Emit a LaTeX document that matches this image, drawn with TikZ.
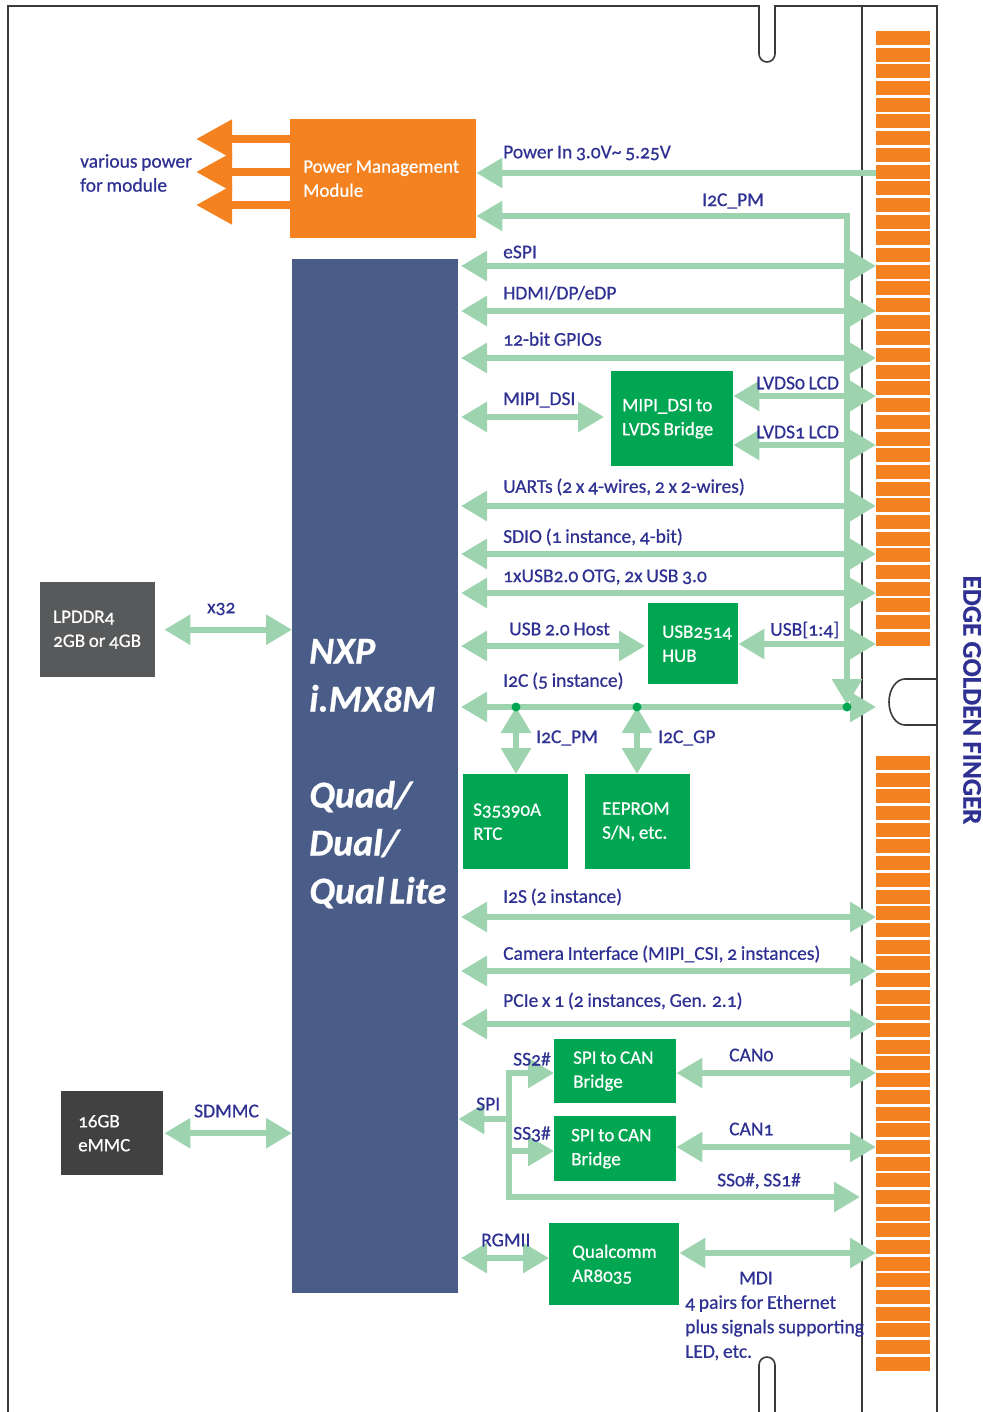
\documentclass[tikz,border=0pt]{standalone}
\usepackage{fontspec}
\setmainfont{Carlito}[Numbers=OldStyle, WordSpace=0.85, FakeBold=0.6]
\usetikzlibrary{arrows.meta,positioning}

\definecolor{busgreen}{HTML}{9DD4AF}
\definecolor{boxgreen}{HTML}{00A651}
\definecolor{pwrorange}{HTML}{F58220}
\definecolor{socblue}{HTML}{4A5D88}
\definecolor{memgray}{HTML}{58595B}
\definecolor{flashgray}{HTML}{414141}
\definecolor{txtblue}{HTML}{2E3192}
\definecolor{framegray}{HTML}{3A3A3A}

\tikzset{
  bus/.style={draw=busgreen, line width=6pt, line join=miter},
  pwr/.style={draw=pwrorange, line width=8pt, -{Triangle[length=36pt,width=37pt]}},
  lbl/.style={text=txtblue, anchor=west, inner sep=0pt, align=left, font=\fontsize{19.5}{24}\selectfont},
  blk/.style={anchor=north west, inner ysep=0pt, align=flush left, text=white, font=\fontsize{19}{24}\selectfont},
  tapdot/.style={fill=boxgreen, circle, inner sep=0pt, minimum size=9pt},
  edgeline/.style={draw=framegray, line width=1.6pt},
}

\begin{document}
\begin{tikzpicture}[x=1pt, y=-1pt, >={Triangle[length=26pt,width=29pt]}]
    \useasboundingbox (0,0) rectangle (982,1412);

    % module outline and edge connector
    \draw[edgeline] (8,1412) -- (8,6) -- (759,6) -- (759,54)
        arc[start angle=180, end angle=0, radius=8] -- (775,6) -- (937,6) -- (937,1412);
    \draw[edgeline] (862,6) -- (862,1412);
    \draw[edgeline] (937,679) -- (905,679)
        arc[start angle=270, end angle=90, x radius=16, y radius=23] -- (937,725);
    \draw[edgeline] (759,1412) -- (759,1365)
        arc[start angle=180, end angle=360, radius=8] -- (775,1412);
    \foreach \i in {0,...,36} {
        \fill[pwrorange] (876,{31+16.69*\i}) rectangle ++(54,14);
        \fill[pwrorange] (876,{756+16.69*\i}) rectangle ++(54,14);
    }
    \node[rotate=-90, text=txtblue, font=\bfseries\fontsize{27}{27}\selectfont] (edge) at (972,700) {EDGE GOLDEN FINGER};

    % blocks
    \node[blk, fill=pwrorange, minimum width=186pt, minimum height=119pt, text width=160pt, inner xsep=13pt] (pmm) at (290,119) {Power~Management\\Module};
    \node[blk, fill=socblue, minimum width=166pt, minimum height=1034pt, text width=132pt, inner xsep=17pt,
          font=\bfseries\itshape\fontsize{38}{48}\selectfont] (chip) at (292,259) {NXP\\i.MX8M\\[48pt]Quad/\\Dual/\\Qual~Lite\\[-38pt]\mbox{}};
    \node[blk, fill=boxgreen, minimum width=122pt, minimum height=95pt, text width=100pt, inner xsep=11pt] (mipi) at (611,371) {MIPI\_DSI~to\\LVDS~Bridge};
    \node[blk, fill=boxgreen, minimum width=90pt, minimum height=81pt, text width=62pt, inner xsep=14pt] (hub) at (648,603) {USB2514\\HUB};
    \node[blk, fill=boxgreen, minimum width=105pt, minimum height=95pt, text width=85pt, inner xsep=10pt] (rtc) at (463,774) {S35390A\\RTC};
    \node[blk, fill=boxgreen, minimum width=105pt, minimum height=95pt, text width=71pt, inner xsep=17pt] (eeprom) at (585,774) {EEPROM\\S/N,~etc.};
    \node[blk, fill=boxgreen, minimum width=122pt, minimum height=64pt, text width=84pt, inner xsep=19pt] (can0) at (554,1039) {SPI~to~CAN\\Bridge};
    \node[blk, fill=boxgreen, minimum width=122pt, minimum height=65pt, text width=88pt, inner xsep=17pt] (can1) at (554,1116) {SPI~to~CAN\\Bridge};
    \node[blk, fill=boxgreen, minimum width=130pt, minimum height=82pt, text width=84pt, inner xsep=23pt] (qc) at (549,1223) {Qualcomm\\AR8035};
    \node[blk, fill=memgray, minimum width=115pt, minimum height=95pt, text width=89pt, inner xsep=13pt] (lpddr) at (40,582) {LPDDR4\\2GB~or~4GB};
    \node[blk, fill=flashgray, minimum width=102pt, minimum height=84pt, text width=68pt, inner xsep=17pt] (emmc) at (61,1091) {16GB\\eMMC};

    % power outputs
    \foreach \y in {139,172,205}
        \draw[pwr] (pmm.west |- 0,\y) -- ++(-94,0);
    \node[lbl] (vpwr) at (80,173) {various power\\for module};

    % bus ends
    \coordinate (cx) at (461,0);
    \coordinate (fx) at (876,0);
    \coordinate (pmTurn) at (847,216);
    \coordinate (pmDrop) at (847,705);
    \coordinate (tapA) at (516,707);
    \coordinate (tapB) at (637,707);
    \coordinate (tapC) at (847,707);

    \draw[bus,->] (fx |- 0,173) -- (pmm.east |- 0,173);
    \node[lbl] (pwrin) at (503,153) {Power In 3.0V\textasciitilde\ 5.25V};
    \draw[bus,<->] (pmm.east |- pmTurn) -- (pmTurn) -- (pmDrop);
    \node[lbl] (i2cpm) at (702,201) {I2C\_PM};

    \foreach \y/\ly/\n/\t in {266/252/espi/eSPI, 311/293/hdmi/{HDMI/DP/eDP}, 358/339/gpio/12-bit GPIOs,
        506/487/uart/{UARTs (2 x 4-wires, 2 x 2-wires)}, 554/537/sdio/{SDIO (1 instance, 4-bit)},
        593/577/usb/{1xUSB2.0 OTG, 2x USB 3.0}, 707/681/itwoc/I2C (5 instance), 917/897/itwos/I2S (2 instance),
        971/954/csi/{Camera Interface (MIPI\_CSI, 2 instances)}, 1024/1001/pcie/{PCIe x 1 (2 instances, Gen. 2.1)}} {
        \draw[bus,<->] (cx |- 0,\y) -- (fx |- 0,\y);
        \node[lbl] (\n) at (503,\ly) {\t};
    }

    \draw[bus,<->] (cx |- 0,417) -- ([xshift=-7pt]mipi.west |- 0,417);
    \node[lbl] (dsi) at (503,400) {MIPI\_DSI};
    \draw[bus,<->] (mipi.east |- 0,396) -- (fx |- 0,396);
    \node[lbl] (lvdsa) at (756,383) {LVDS0 LCD};
    \draw[bus,<->] (mipi.east |- 0,445) -- (fx |- 0,445);
    \node[lbl] (lvdsb) at (756,432) {LVDS1 LCD};

    \draw[bus,<->] (cx |- 0,646) -- ([xshift=-3pt]hub.west |- 0,646);
    \node[lbl] (host) at (509,629) {USB 2.0 Host};
    \draw[bus,<->] (hub.east |- 0,644) -- (fx |- 0,644);
    \node[lbl] (usbp) at (770,630) {USB[1:4]};

    \draw[bus,<->] (tapA) -- (rtc.north -| tapA);
    \node[lbl] (tappm) at (536,738) {I2C\_PM};
    \draw[bus,<->] (tapB) -- (eeprom.north -| tapB);
    \node[lbl] (tapgp) at (658,738) {I2C\_GP};
    \foreach \c in {tapA,tapB,tapC}
        \node[tapdot] at (\c) {};

    \draw[bus,<->] ([xshift=9pt]lpddr.east) -- (chip.west |- lpddr.east);
    \node[lbl] (xw) at (207,609) {x32};
    \draw[bus,<->] ([xshift=1pt]emmc.east) -- (chip.west |- emmc.east);
    \node[lbl] (sdmmc) at (194,1111) {SDMMC};

    % SPI tree
    \coordinate (spiTop) at (509,1073);
    \coordinate (spiMid) at (509,1119);
    \coordinate (spiSs) at (509,1151);
    \coordinate (spiBot) at (509,1197);
    \coordinate (ssEnd) at (860,1197);
    \draw[bus,->] (spiMid) -- (chip.east |- spiMid);
    \draw[bus,<->] (can0.west |- spiTop) -- (spiTop) -- (spiBot) -- (ssEnd);
    \draw[bus,->] (spiSs) -- (can1.west |- spiSs);
    \node[lbl] (spi) at (476,1104) {SPI};
    \node[lbl] (ssa) at (513,1059) {SS2\#};
    \node[lbl] (ssb) at (513,1134) {SS3\#};
    \node[lbl] (ssc) at (717,1181) {SS0\#, SS1\#};
    \draw[bus,<->] (can0.east |- 0,1073) -- (fx |- 0,1073);
    \node[lbl] (cana) at (729,1055) {CAN0};
    \draw[bus,<->] (can1.east |- 0,1147) -- (fx |- 0,1147);
    \node[lbl] (canb) at (729,1129) {CAN1};

    % Ethernet
    \draw[bus,<->] (cx |- 0,1258) -- (qc.west |- 0,1258);
    \node[lbl] (rgmii) at (481,1240) {RGMII};
    \draw[bus,<->] (qc.east |- 0,1253) -- (fx |- 0,1253);
    \node[lbl, font=\fontsize{19.5}{24.5}\selectfont] (mdi) at (685,1316) {\hspace*{54pt}MDI\\4 pairs for Ethernet\\plus signals supporting\\LED, etc.};

\end{tikzpicture}
\end{document}
